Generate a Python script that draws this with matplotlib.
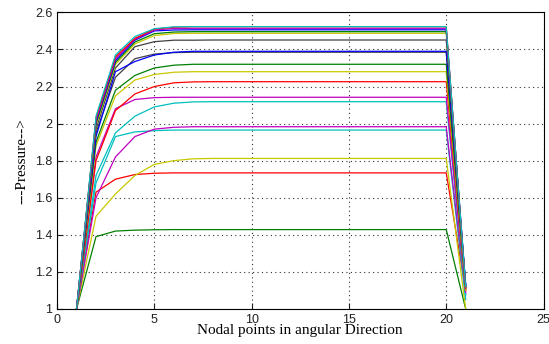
import matplotlib
matplotlib.use("Agg")
import matplotlib.pyplot as plt

# nodal points 1..21, pressure rises over the first 7 nodes, flat to node 20, drops at node 21
x_rise = [1, 2, 3, 4, 5, 6, 7]
x_flat = list(range(8, 21))
x_end = 21

# rise values at nodes 1..7 for each curve
green_1 = [1.0, 1.39, 1.42, 1.425, 1.427, 1.428, 1.428]
red_1 = [1.0, 1.63, 1.70, 1.725, 1.732, 1.734, 1.734]
yellow_1 = [1.0, 1.50, 1.62, 1.72, 1.78, 1.80, 1.81]
cyan_1 = [1.0, 1.68, 1.93, 1.955, 1.962, 1.965, 1.965]
magenta_1 = [1.0, 1.60, 1.82, 1.93, 1.97, 1.98, 1.983]
cyan_2 = [1.0, 1.72, 1.95, 2.04, 2.09, 2.11, 2.117]
magenta_2 = [1.0, 1.82, 2.08, 2.13, 2.14, 2.142, 2.142]
red_2 = [1.0, 1.80, 2.07, 2.16, 2.20, 2.22, 2.225]
yellow_2 = [1.0, 1.88, 2.15, 2.235, 2.265, 2.277, 2.28]
green_2 = [1.0, 1.90, 2.18, 2.26, 2.30, 2.315, 2.32]
black_1 = [1.0, 1.95, 2.25, 2.35, 2.375, 2.383, 2.385]
blue_1 = [1.0, 1.93, 2.28, 2.335, 2.37, 2.385, 2.39]
black_2 = [1.0, 1.97, 2.30, 2.415, 2.442, 2.45, 2.45]
yellow_3 = [1.0, 1.99, 2.32, 2.43, 2.475, 2.486, 2.487]
green_3 = [1.0, 2.00, 2.33, 2.44, 2.485, 2.494, 2.496]
blue_2 = [1.0, 2.01, 2.34, 2.45, 2.50, 2.505, 2.506]
magenta_3 = [1.0, 2.02, 2.35, 2.455, 2.505, 2.513, 2.514]
red_3 = [1.0, 2.03, 2.36, 2.46, 2.51, 2.52, 2.523]
cyan_3 = [1.0, 2.04, 2.37, 2.47, 2.512, 2.522, 2.523]

# (rise, plateau value, value at node 21, colour key)
series = [
    (green_1, 1.428, 1.00, "g"),
    (red_1, 1.734, 1.10, "r"),
    (yellow_1, 1.812, 1.00, "y"),
    (cyan_1, 1.965, 1.05, "c"),
    (magenta_1, 1.983, 1.08, "m"),
    (cyan_2, 2.118, 1.07, "c"),
    (magenta_2, 2.142, 1.09, "m"),
    (red_2, 2.226, 1.10, "r"),
    (yellow_2, 2.280, 1.10, "y"),
    (green_2, 2.320, 1.11, "g"),
    (black_1, 2.385, 1.12, "k"),
    (blue_1, 2.390, 1.13, "b"),
    (black_2, 2.451, 1.12, "k"),
    (yellow_3, 2.487, 1.12, "y"),
    (green_3, 2.496, 1.12, "g"),
    (blue_2, 2.506, 1.13, "b"),
    (magenta_3, 2.514, 1.12, "m"),
    (red_3, 2.523, 1.11, "r"),
    (cyan_3, 2.523, 1.12, "c"),
]

colours = {
    "b": "#0000ff",
    "g": "#008000",
    "r": "#ff0000",
    "c": "#00bfbf",
    "m": "#bf00bf",
    "y": "#c8c800",
    "k": "#404040",
}

fig = plt.figure(figsize=(5.49, 3.44), dpi=100)
ax = fig.add_axes([0.104, 0.102, 0.886, 0.862])

for rise, plateau, end, c in series:
    xs = x_rise + x_flat + [x_end]
    ys = rise + [plateau] * len(x_flat) + [end]
    ax.plot(xs, ys, color=colours[c], linewidth=0.9)

ax.set_xlim(0, 25)
ax.set_ylim(1, 2.6)
ax.set_xticks([0, 5, 10, 15, 20, 25])
ax.set_yticks([1, 1.2, 1.4, 1.6, 1.8, 2, 2.2, 2.4, 2.6])
ax.set_yticklabels(["1", "1.2", "1.4", "1.6", "1.8", "2", "2.2", "2.4", "2.6"])
ax.grid(True, linestyle=(0, (1, 3)), color="#303030", linewidth=0.8)
ax.tick_params(direction="in", length=4, labelsize=9, colors="#202020")
for lbl in ax.get_xticklabels() + ax.get_yticklabels():
    lbl.set_family("Liberation Sans")
for spine in ax.spines.values():
    spine.set_linewidth(0.8)

ax.set_xlabel("Nodal points in angular Direction", family="Liberation Serif",
              fontsize=11, labelpad=-1)
ax.set_ylabel("---Pressure-->", family="Liberation Serif", fontsize=11, labelpad=5)

fig.savefig("out.png", dpi=100)
